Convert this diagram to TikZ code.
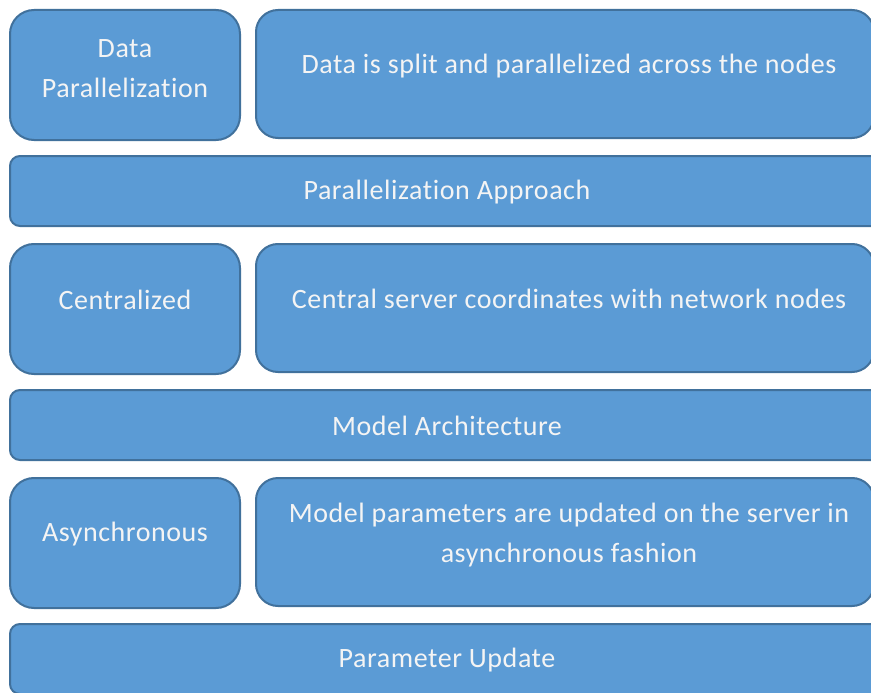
\documentclass[tikz,border=0pt]{standalone}
\usepackage{fontspec}
\setmainfont{Carlito}[LetterSpace=2,Ligatures=NoCommon]
\definecolor{boxfill}{HTML}{5B9BD5}
\definecolor{boxline}{HTML}{41719C}
\definecolor{txtcol}{HTML}{F4F4F4}
\begin{document}
\begin{tikzpicture}[x=1pt,y=-1pt,
  base/.style={draw=boxline,fill=boxfill,line width=2pt,inner sep=0pt,outer sep=0pt,anchor=north west},
  smallbox/.style={base,rounded corners=24pt,minimum width=230pt,minimum height=130pt},
  bigbox/.style={base,rounded corners=22pt,minimum width=618pt,minimum height=128pt},
  barbox/.style={base,rounded corners=10pt,minimum width=874pt,minimum height=70pt},
  txt/.style={text=txtcol,font=\fontsize{28}{40}\selectfont,align=center,inner sep=0pt}]
\useasboundingbox (0,0) rectangle (871,693);
\clip (0,0) rectangle (871,693);
\fill[white] (0,0) rectangle (871,693);
% row 1
\node[smallbox] (dp) at (10,10) {};
\node[txt] (dpt) at (125,69) {Data\\Parallelization};
\node[bigbox] (dpd) at (256,10) {};
\node[txt] (dpdt) at (569,66) {Data is split and parallelized across the nodes};
% bar 1
\node[barbox] (pa) at (10,156) {};
\node[txt] (pat) at (447,192) {Parallelization Approach};
% row 2
\node[smallbox] (ce) at (10,244) {};
\node[txt] (cet) at (125,300) {Centralized};
\node[bigbox] (ced) at (256,244) {};
\node[txt] (cedt) at (569,299) {Central server coordinates with network nodes};
% bar 2
\node[barbox] (ma) at (10,390) {};
\node[txt] (mat) at (447,426) {Model Architecture};
% row 3
\node[smallbox] (as) at (10,478) {};
\node[txt] (ast) at (125,534) {Asynchronous};
\node[bigbox] (asd) at (256,478) {};
\node[txt] (asdt) at (569,535) {Model parameters are updated on the server in\\asynchronous fashion};
% bar 3
\node[barbox] (pu) at (10,624) {};
\node[txt] (put) at (447,660) {Parameter Update};
\end{tikzpicture}
\end{document}
